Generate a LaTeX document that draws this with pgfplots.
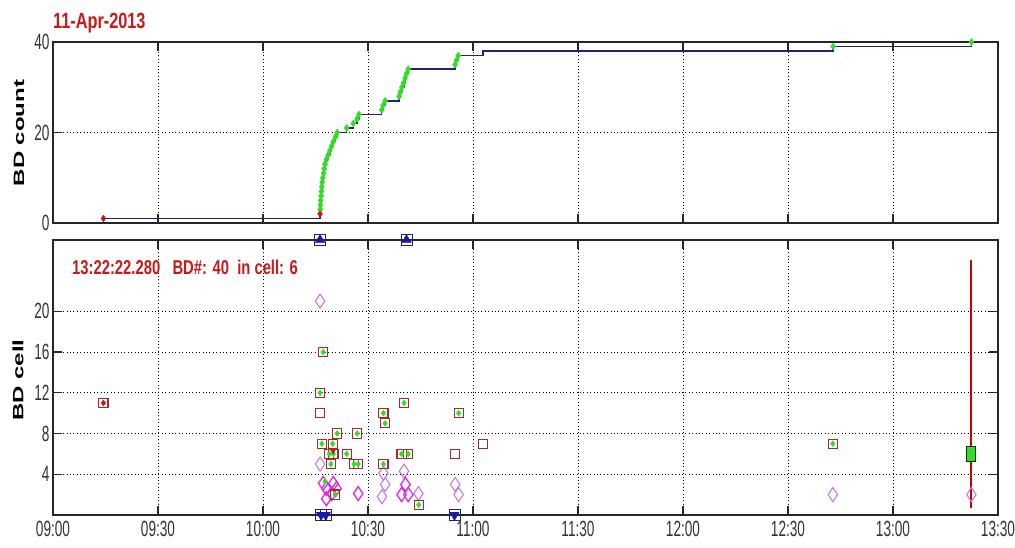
\documentclass[border=0pt]{standalone}
\usepackage{fontspec}
\usepackage{pgfplots}
\pgfplotsset{compat=1.18}
\setmainfont{Liberation Sans}
\newfontfamily\ticklab{Liberation Sans}[FakeStretch=0.62]
\newfontfamily\redlab{Liberation Sans}[FakeStretch=0.74]

\definecolor{stepnavy}{RGB}{35,35,110}
\definecolor{bdgreen}{RGB}{50,220,40}
\definecolor{bdred}{RGB}{200,25,25}
\definecolor{sqred}{RGB}{170,40,40}
\definecolor{violetA}{RGB}{200,120,225}
\definecolor{magentaA}{RGB}{225,40,220}
\definecolor{triblue}{RGB}{25,25,170}

% shared look of both panels (time axis in minutes after 09:00)
\pgfplotsset{
  bdaxis/.style={
    scale only axis, width=945pt,
    xmin=0, xmax=270, xtick={0,30,...,270},
    grid=major,
    major grid style={black, line width=0.9pt, dash pattern=on 1pt off 2.4pt},
    axis line style={black!85, line width=1.3pt},
    tick align=inside, major tick length=9pt,
    tick style={black!85, line width=1.2pt},
    xtick pos=both, ytick pos=both,
    tick label style={font=\ticklab\fontsize{22}{22}\selectfont, text=black!80},
    /pgf/number format/assume math mode=true,
  }
}

\begin{document}
\begin{tikzpicture}
\useasboundingbox (0,0) rectangle (1015pt,548pt);

% ---------- cumulative breakdown count ----------
\begin{axis}[bdaxis,
  at={(53pt,325pt)}, anchor=south west, height=181pt,
  ymin=0, ymax=40, ytick={0,20,40},
  xticklabels={},
]
\addplot[const plot, draw=stepnavy, line width=1.6pt, mark=none] coordinates {
  (14.4,1) (76.3,2) (76.35,3) (76.4,4) (76.5,5) (76.6,6) (76.7,7) (76.8,8)
  (76.9,9) (77.1,10) (77.3,11) (77.5,12) (77.7,13) (78.1,14) (78.6,15)
  (79.1,16) (79.6,17) (80.1,18) (80.7,19) (81.2,20) (83.9,21) (85.8,22)
  (86.9,23) (87.4,24) (93.9,25) (94.3,26) (94.9,27) (98.9,28) (99.3,29)
  (99.7,30) (100.2,31) (100.6,32) (101.0,33) (101.5,34) (114.9,35)
  (115.3,36) (115.8,37) (122.9,38) (222.9,39) (262.4,40)
};
\addplot[only marks, mark=diamond*, mark size=3.4pt,
  mark options={fill=bdgreen, draw=bdgreen}] coordinates {
  (76.35,3) (76.4,4) (76.5,5) (76.6,6) (76.7,7) (76.8,8)
  (76.9,9) (77.1,10) (77.3,11) (77.5,12) (77.7,13) (78.1,14) (78.6,15)
  (79.1,16) (79.6,17) (80.1,18) (80.7,19) (81.2,20) (83.9,21) (85.8,22)
  (86.9,23) (87.4,24) (93.9,25) (94.3,26) (94.9,27) (98.9,28) (99.3,29)
  (99.7,30) (100.2,31) (100.6,32) (101.0,33) (101.5,34) (114.9,35)
  (115.3,36) (115.8,37) (222.9,39) (262.4,40)
};
\addplot[only marks, mark=diamond*, mark size=3.2pt,
  mark options={fill=bdred, draw=bdred}] coordinates {(14.4,1) (76.3,2)};
\end{axis}

% ---------- cell of each breakdown ----------
\begin{axis}[bdaxis,
  at={(53pt,33pt)}, anchor=south west, height=275pt,
  ymin=0, ymax=27, ytick={4,8,12,16,20},
  xticklabels={09:00,09:30,10:00,10:30,11:00,11:30,12:00,12:30,13:00,13:30},
  xticklabel style={yshift=-3pt},
  clip=false,
]
% latest breakdown marker line
\addplot[draw=red!80!black, line width=2pt, mark=none] coordinates {(262.4,0.7) (262.4,25)};
% cells of earlier events
\addplot[only marks, mark=diamond, mark size=7pt,
  mark options={draw=violetA, line width=1.1pt, xscale=0.9}] coordinates {
  (76.3,21) (76.3,5) (94.4,4.1) (94.9,3) (94.0,1.8) (100.3,4.3)
  (104.4,2.1) (114.9,3) (115.9,2) (222.8,2) (262.4,2)
};
\addplot[only marks, mark=diamond, mark size=7pt,
  mark options={draw=magentaA, line width=1.3pt, xscale=0.9}] coordinates {
  (77.2,3.1) (78.1,2.6) (80.1,3.1) (81.0,2.6) (79.6,2.1) (78.1,1.6)
  (87.2,2.1) (99.6,2) (101.5,2) (100.7,3)
};
% breakdown cell boxes
\addplot[only marks, mark=square, mark size=4.6pt,
  mark options={draw=sqred, line width=1.1pt}] coordinates {
  (14.4,11) (76.3,12) (77.2,16) (76.8,7) (81.2,8) (79.9,7) (78.9,6)
  (80.1,6) (83.9,6) (79.4,5) (86.0,5) (87.2,5) (86.9,8) (80.6,2)
  (94.4,10) (94.9,9) (94.4,5) (100.3,11) (99.6,6) (101.5,6) (104.5,1)
  (115.9,10) (222.8,7) (76.3,10) (114.9,6) (122.8,7)
};
\addplot[only marks, mark=diamond*, mark size=3pt,
  mark options={fill=bdgreen, draw=bdgreen}] coordinates {
  (76.3,12) (77.2,16) (76.8,7) (81.2,8) (79.9,7) (78.9,6)
  (80.1,6) (83.9,6) (79.4,5) (86.0,5) (87.2,5) (86.9,8) (80.6,2)
  (94.4,10) (94.9,9) (94.4,5) (100.3,11) (99.6,6) (101.5,6) (104.5,1)
  (115.9,10) (222.8,7) (77.7,3.3)
};
\addplot[only marks, mark=diamond*, mark size=3pt,
  mark options={fill=bdred, draw=bdred}] coordinates {(14.4,11) (80.0,6.3)};
\addplot[only marks, mark=square*, mark size=4.5pt,
  mark options={fill=bdgreen, draw=black!60!green!50!black, line width=1pt, yscale=1.6}]
  coordinates {(262.4,6)};
% interlock flags on the panel edges
\addplot[only marks, mark=square, mark size=5.5pt,
  mark options={draw=stepnavy, line width=0.9pt}] coordinates {
  (76.3,27) (101.0,27) (76.6,0) (77.9,0) (114.7,0)
};
\addplot[only marks, mark=triangle*, mark size=5.5pt,
  mark options={fill=triblue, draw=triblue}] coordinates {(76.3,27) (101.0,27)};
\addplot[only marks, mark=triangle*, mark size=5.5pt,
  mark options={fill=triblue, draw=triblue, rotate=180}] coordinates {
  (76.6,0) (77.9,0) (114.7,0)
};
\end{axis}

% titles and axis names
\node[anchor=base west, inner sep=0, text=bdred,
  font=\redlab\bfseries\fontsize{22}{22}\selectfont] at (53pt,519pt) {11-Apr-2013};
\node[anchor=base west, inner sep=0, text=bdred,
  font=\redlab\bfseries\fontsize{20}{20}\selectfont] at (72pt,273pt)
  {13:22:22.280\ \ \ BD\#: 40\ \ in cell: 6};
\node[rotate=90, inner sep=0] at (19pt,415pt)
  {\scalebox{1.6}[1]{\fontsize{15}{15}\selectfont\bfseries BD count}};
\node[rotate=90, inner sep=0] at (18pt,168pt)
  {\scalebox{1.6}[1]{\fontsize{15}{15}\selectfont\bfseries BD cell}};
\end{tikzpicture}
\end{document}
